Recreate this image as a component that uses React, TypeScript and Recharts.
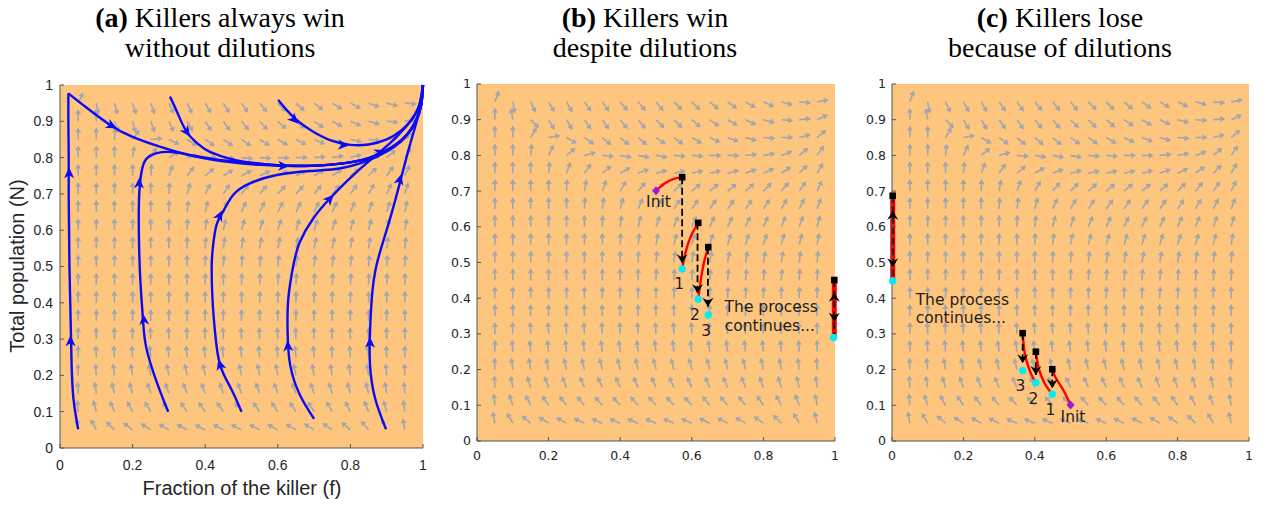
import React from 'react';
import { ComposedChart, Line, Scatter, XAxis, YAxis, CartesianGrid } from 'recharts';

// ---------- axes ----------
const X_TICKS = [0, 0.2, 0.4, 0.6, 0.8, 1];
const Y_TICKS = [0, 0.1, 0.2, 0.3, 0.4, 0.5, 0.6, 0.7, 0.8, 0.9, 1];

// ---------- quiver grid (columns f, rows N from top to bottom) ----------
const GRID_X = [0.05, 0.1, 0.15, 0.2, 0.25, 0.3, 0.35, 0.4, 0.45, 0.5, 0.55, 0.6, 0.65, 0.7, 0.75, 0.8, 0.85, 0.9, 0.95];
const GRID_Y = [0.95, 0.9, 0.85, 0.8, 0.75, 0.7, 0.65, 0.6, 0.55, 0.5, 0.45, 0.4, 0.35, 0.3, 0.25, 0.2, 0.15, 0.1, 0.05];

// arrow directions (degrees)
const FIELD_A: number[][] = [
  [65, -80, -75, -72, -70, -66, -64, -60, -58, -55, -50, -46, -42, -37, -32, -27, -20, -14, -5],
  [90, 95, -70, -75, -70, -65, -60, -57, -54, -50, -46, -42, -38, -34, -29, -23, -15, -5, 12],
  [90, 90, 85, 55, 5, -25, -32, -35, -35, -34, -32, -30, -27, -23, -19, -12, -4, 10, 35],
  [90, 90, 90, 82, 60, 30, 10, 0, -4, -5, -4, -2, 0, 4, 9, 15, 25, 40, 57],
  [90, 90, 90, 90, 85, 70, 52, 40, 32, 27, 25, 25, 26, 29, 33, 38, 45, 55, 66],
  [90, 90, 90, 90, 90, 86, 74, 63, 56, 51, 49, 48, 48, 50, 52, 55, 60, 66, 73],
  [90, 90, 90, 90, 90, 89, 83, 76, 70, 66, 64, 63, 63, 64, 65, 67, 70, 73, 78],
  [90, 90, 90, 90, 90, 90, 87, 82, 78, 75, 73, 72, 72, 72, 73, 74, 76, 78, 81],
  [90, 90, 90, 90, 90, 90, 89, 86, 83, 81, 80, 79, 79, 79, 79, 80, 81, 82, 84],
  [90, 90, 90, 90, 90, 90, 90, 88, 86, 85, 84, 84, 84, 84, 84, 84, 85, 86, 87],
  [90, 90, 90, 90, 90, 90, 90, 89, 88, 88, 87, 87, 87, 87, 87, 87, 88, 88, 89],
  [90, 90, 90, 90, 90, 90, 90, 90, 90, 89, 89, 89, 89, 89, 89, 89, 89, 90, 90],
  [90, 90, 90, 90, 90, 90, 90, 90, 90, 90, 90, 90, 90, 90, 90, 90, 90, 90, 90],
  [90, 91, 91, 92, 92, 92, 92, 92, 92, 92, 92, 92, 92, 92, 92, 92, 91, 91, 90],
  [90, 92, 93, 94, 95, 95, 95, 95, 95, 95, 95, 95, 95, 95, 94, 94, 93, 92, 90],
  [91, 94, 97, 99, 100, 101, 101, 101, 101, 101, 101, 101, 101, 100, 100, 99, 97, 95, 92],
  [92, 98, 103, 106, 108, 109, 110, 110, 110, 110, 110, 110, 109, 109, 108, 106, 103, 100, 95],
  [94, 105, 113, 118, 121, 123, 124, 125, 125, 125, 125, 124, 123, 122, 120, 117, 112, 106, 98],
  [98, 118, 135, 143, 148, 150, 152, 153, 153, 153, 153, 152, 150, 148, 145, 140, 130, 117, 100],
];

// arrow directions (degrees) (b) and (c)
const FIELD_BC: number[][] = [
  [70, -80, -65, -60, -60, -55, -55, -50, -50, -50, -45, -45, -40, -35, -30, -25, -15, -5, 10],
  [90, 100, -45, -60, -60, -55, -55, -50, -50, -45, -45, -40, -35, -30, -25, -15, -5, 5, 25],
  [90, 90, 60, 10, -30, -35, -40, -40, -40, -35, -35, -30, -25, -20, -15, -5, 0, 15, 40],
  [90, 90, 85, 65, 40, 15, -5, -10, -10, -10, -5, -5, 0, 0, 5, 10, 20, 40, 55],
  [90, 90, 90, 85, 70, 55, 40, 30, 20, 15, 12, 12, 12, 15, 20, 25, 35, 45, 60],
  [90, 90, 90, 90, 88, 80, 70, 60, 50, 45, 42, 40, 40, 40, 42, 45, 50, 55, 65],
  [90, 90, 90, 90, 90, 87, 82, 75, 66, 60, 57, 55, 55, 55, 55, 57, 60, 63, 70],
  [90, 90, 90, 90, 90, 90, 88, 83, 76, 71, 68, 66, 65, 65, 65, 66, 68, 70, 75],
  [90, 90, 90, 90, 90, 90, 90, 88, 83, 79, 76, 74, 73, 73, 73, 73, 74, 76, 80],
  [90, 90, 90, 90, 90, 90, 90, 90, 88, 85, 83, 81, 80, 80, 80, 80, 81, 83, 85],
  [90, 90, 90, 90, 90, 90, 90, 90, 90, 88, 87, 86, 85, 85, 85, 85, 86, 87, 88],
  [90, 90, 90, 90, 90, 90, 90, 90, 90, 90, 89, 89, 88, 88, 88, 88, 89, 89, 90],
  [90, 90, 91, 91, 91, 91, 91, 91, 91, 91, 91, 91, 91, 91, 91, 91, 91, 90, 90],
  [90, 92, 92, 93, 93, 93, 93, 93, 93, 93, 93, 93, 93, 93, 93, 93, 92, 92, 90],
  [90, 93, 95, 96, 96, 97, 97, 97, 97, 97, 97, 97, 97, 97, 96, 96, 95, 93, 90],
  [92, 97, 100, 102, 103, 104, 104, 104, 104, 104, 104, 104, 104, 103, 103, 102, 100, 97, 93],
  [93, 100, 107, 110, 112, 113, 114, 114, 114, 114, 114, 114, 113, 113, 112, 110, 107, 103, 97],
  [95, 108, 118, 125, 128, 130, 132, 132, 132, 132, 132, 132, 130, 130, 128, 125, 118, 110, 100],
  [100, 120, 140, 148, 152, 155, 157, 158, 158, 158, 158, 157, 155, 153, 150, 145, 135, 120, 103],
];

// ---------- panel (a) streamlines ----------
type P = [number, number];
const streamA1: P[] = [[0.05, 0.052], [0.037, 0.137], [0.032, 0.229], [0.03, 0.32], [0.028, 0.41], [0.026, 0.504], [0.025, 0.6], [0.024, 0.7], [0.024, 0.8], [0.023, 0.9], [0.023, 0.977]];
const streamA1top: P[] = [[0.023, 0.977], [0.07, 0.94], [0.138, 0.89], [0.2, 0.857], [0.275, 0.83], [0.35, 0.808], [0.413, 0.795], [0.48, 0.786], [0.551, 0.78], [0.643, 0.777], [0.71, 0.778], [0.78, 0.784], [0.83, 0.793], [0.872, 0.807], [0.915, 0.83], [0.955, 0.862], [0.98, 0.9], [0.995, 0.945], [1, 1]];
const streamA2: P[] = [[0.303, 0.968], [0.325, 0.92], [0.349, 0.871], [0.38, 0.838], [0.413, 0.816], [0.46, 0.799], [0.505, 0.789], [0.597, 0.779], [0.68, 0.777], [0.76, 0.782], [0.83, 0.793], [0.88, 0.81], [0.925, 0.835], [0.958, 0.866], [0.98, 0.9], [0.995, 0.945], [1, 1]];
const streamA3: P[] = [[0.601, 0.959], [0.647, 0.908], [0.7, 0.87], [0.75, 0.846], [0.8, 0.835], [0.85, 0.836], [0.9, 0.85], [0.94, 0.875], [0.97, 0.905], [0.99, 0.945], [1, 1]];
const streamA4: P[] = [[0.298, 0.1], [0.266, 0.183], [0.238, 0.275], [0.229, 0.348], [0.222, 0.45], [0.218, 0.55], [0.217, 0.65], [0.22, 0.725], [0.23, 0.782], [0.25, 0.806], [0.28, 0.815], [0.32, 0.814], [0.37, 0.805], [0.43, 0.795], [0.5, 0.787], [0.6, 0.779], [0.7, 0.778], [0.78, 0.784], [0.85, 0.797], [0.9, 0.817], [0.94, 0.845], [0.972, 0.885], [0.992, 0.935], [1, 1]];
const streamA5: P[] = [[0.5, 0.1], [0.471, 0.164], [0.441, 0.229], [0.427, 0.32], [0.42, 0.412], [0.418, 0.504], [0.422, 0.56], [0.431, 0.614], [0.449, 0.651], [0.477, 0.697], [0.523, 0.729], [0.597, 0.752], [0.689, 0.763], [0.78, 0.772], [0.872, 0.802], [0.925, 0.835], [0.955, 0.862], [0.98, 0.9], [0.995, 0.945], [1, 1]];
const streamA6: P[] = [[0.7, 0.08], [0.661, 0.146], [0.634, 0.229], [0.627, 0.32], [0.629, 0.412], [0.643, 0.504], [0.661, 0.568], [0.698, 0.633], [0.744, 0.688], [0.808, 0.752], [0.882, 0.816], [0.93, 0.86], [0.965, 0.9], [0.99, 0.945], [1, 1]];
const streamA7: P[] = [[0.898, 0.052], [0.868, 0.137], [0.854, 0.229], [0.854, 0.32], [0.859, 0.412], [0.872, 0.504], [0.904, 0.614], [0.937, 0.733], [0.964, 0.835], [0.992, 0.936], [1, 1]];
const STREAMS_A = [streamA1, streamA1top, streamA2, streamA3, streamA4, streamA5, streamA6, streamA7];
// arrowheads on streamlines: [f, N, direction in degrees]
const streamHeadsA: [number, number, number][] = [
  [0.029, 0.294, 90], [0.025, 0.757, 90], [0.142, 0.888, -28], [0.349, 0.871, -55],
  [0.615, 0.777, -2], [0.645, 0.905, -45], [0.78, 0.835, -3], [0.881, 0.815, 22],
  [0.231, 0.353, 95], [0.218, 0.729, 88], [0.441, 0.229, 106], [0.44, 0.64, 64],
  [0.628, 0.28, 94], [0.743, 0.686, 47], [0.854, 0.29, 90], [0.936, 0.739, 75],
];

// ---------- panel (b) ----------
const initB: P[] = [[0.5, 0.701]];
const redB: P[][] = [
  [[0.5, 0.701], [0.525, 0.722], [0.55, 0.734], [0.573, 0.739]],
  [[0.573, 0.482], [0.583, 0.53], [0.598, 0.575], [0.618, 0.611]],
  [[0.618, 0.397], [0.625, 0.45], [0.634, 0.5], [0.646, 0.543]],
];
const barB: P[] = [[0.998, 0.451], [0.998, 0.29]];
const dashB: P[][] = [
  [[0.573, 0.739], [0.573, 0.5]],
  [[0.616, 0.611], [0.616, 0.414]],
  [[0.645, 0.543], [0.645, 0.376]],
  [[0.998, 0.451], [0.998, 0.29]],
];
const squaresB: P[] = [[0.573, 0.739], [0.618, 0.611], [0.646, 0.543], [0.998, 0.451]];
const cyanB: P[] = [[0.573, 0.482], [0.618, 0.397], [0.646, 0.353], [0.996, 0.29]];
const tipsB: [number, number, number][] = [[0.573, 0.498, -90], [0.616, 0.414, -90], [0.645, 0.376, -90], [0.998, 0.415, 90], [0.998, 0.334, -90]];
const textB: { x: number; y: number; t: string }[] = [
  { x: 0.507, y: 0.656, t: 'Init' },
  { x: 0.565, y: 0.425, t: '1' },
  { x: 0.609, y: 0.339, t: '2' },
  { x: 0.64, y: 0.294, t: '3' },
  { x: 0.822, y: 0.362, t: 'The process' },
  { x: 0.818, y: 0.309, t: 'continues...' },
];

// ---------- panel (c) ----------
const initC: P[] = [[0.5, 0.101]];
const redC: P[][] = [
  [[0.5, 0.101], [0.485, 0.133], [0.471, 0.157], [0.457, 0.18], [0.449, 0.201]],
  [[0.449, 0.131], [0.433, 0.152], [0.419, 0.18], [0.41, 0.208], [0.403, 0.25]],
  [[0.403, 0.163], [0.391, 0.185], [0.382, 0.208], [0.372, 0.245], [0.366, 0.302]],
];
const barC: P[] = [[0.002, 0.687], [0.002, 0.448]];
const dashC: P[][] = [
  [[0.449, 0.201], [0.449, 0.148]],
  [[0.403, 0.25], [0.403, 0.185]],
  [[0.366, 0.302], [0.366, 0.218]],
  [[0.002, 0.687], [0.002, 0.448]],
];
const squaresC: P[] = [[0.449, 0.201], [0.403, 0.25], [0.366, 0.302], [0.002, 0.687]];
const cyanC: P[] = [[0.449, 0.131], [0.403, 0.163], [0.366, 0.197], [0.002, 0.448]];
const tipsC: [number, number, number][] = [[0.449, 0.148, -90], [0.403, 0.185, -90], [0.366, 0.218, -90], [0.002, 0.645, 90], [0.002, 0.487, -90]];
const textC: { x: number; y: number; t: string }[] = [
  { x: 0.507, y: 0.054, t: 'Init' },
  { x: 0.444, y: 0.073, t: '1' },
  { x: 0.396, y: 0.104, t: '2' },
  { x: 0.36, y: 0.141, t: '3' },
  { x: 0.197, y: 0.381, t: 'The process' },
  { x: 0.193, y: 0.331, t: 'continues...' },
];

// ---------- styles ----------
const ORANGE = '#FEC57F';
const FRAME = '#555555';
const FIELD_COLOR = '#A0A5AE';
const BLUE = '#0A0AF5';
const RED = '#FF0000';

const pts = (a: P[]) => a.map(([x, y]) => ({ x, y }));
const dirPts = (a: [number, number, number][]) => a.map(([x, y, d]) => ({ x, y, a: d }));
const fieldPts = (tbl: number[][]) => GRID_Y.flatMap((y, i) => GRID_X.map((x, j) => ({ x, y, a: tbl[i][j] })));
const fmt = (v: number) => String(v);

function FieldArrow(p: any) {
  const { cx, cy, payload } = p;
  if (cx == null || cy == null) return <g />;
  const r = (payload.a * Math.PI) / 180;
  const L = 12, hl = 5, hw = 3;
  const ux = Math.cos(r), uy = -Math.sin(r);
  const tx = cx + ux * L, ty = cy + uy * L;
  const bx = tx - ux * hl, by = ty - uy * hl;
  const nx = -uy, ny = ux;
  return (
    <g>
      <line x1={cx} y1={cy} x2={bx} y2={by} stroke={FIELD_COLOR} strokeWidth={1.6} />
      <path d={`M${tx},${ty}L${bx + nx * hw},${by + ny * hw}L${bx - nx * hw},${by - ny * hw}Z`} fill={FIELD_COLOR} />
    </g>
  );
}

function StreamHead(p: any) {
  const { cx, cy, payload } = p;
  if (cx == null || cy == null) return <g />;
  const r = (payload.a * Math.PI) / 180;
  const ux = Math.cos(r), uy = -Math.sin(r);
  const nx = -uy, ny = ux;
  const tx = cx + ux * 6, ty = cy + uy * 6;
  const bx = cx - ux * 5, by = cy - uy * 5;
  const mx = cx - ux * 2, my = cy - uy * 2;
  return <path d={`M${tx},${ty}L${bx + nx * 5},${by + ny * 5}L${mx},${my}L${bx - nx * 5},${by - ny * 5}Z`} fill={BLUE} />;
}

function TipHead(p: any) {
  const { cx, cy, payload } = p;
  if (cx == null || cy == null) return <g />;
  const r = (payload.a * Math.PI) / 180;
  const ux = Math.cos(r), uy = -Math.sin(r);
  const nx = -uy, ny = ux;
  const bx = cx - ux * 9, by = cy - uy * 9;
  const mx = cx - ux * 6, my = cy - uy * 6;
  return <path d={`M${cx},${cy}L${bx + nx * 5.5},${by + ny * 5.5}L${mx},${my}L${bx - nx * 5.5},${by - ny * 5.5}Z`} fill="#000" />;
}

const SquareMark = (p: any) => (p.cx == null ? <g /> : <rect x={p.cx - 3.3} y={p.cy - 3.3} width={6.6} height={6.6} fill="#000" />);
const CyanMark = (p: any) => (p.cx == null ? <g /> : <circle cx={p.cx} cy={p.cy} r={3.7} fill="#00EEF2" />);
const InitMark = (p: any) => (p.cx == null ? <g /> : <path d={`M${p.cx},${p.cy - 4.5}L${p.cx + 4},${p.cy}L${p.cx},${p.cy + 4.5}L${p.cx - 4},${p.cy}Z`} fill="#9A1BD8" />);
const TextMark = (p: any) =>
  p.cx == null ? <g /> : (
    <text x={p.cx} y={p.cy} textAnchor="middle" fontFamily="DejaVu Sans" fontSize={15.5} fill="#1e1e1e">
      {p.payload.t}
    </text>
  );

function axes(font: string, fs: number, xMargin: number, yMargin: number, yW: number, xH: number) {
  const tick = { fontFamily: font, fontSize: fs, fill: '#262626' };
  const line = { stroke: FRAME, strokeWidth: 1 };
  return [
    <CartesianGrid key="g" horizontal={false} vertical={false} fill={ORANGE} fillOpacity={1} />,
    <XAxis key="xb" xAxisId={0} dataKey="x" type="number" domain={[0, 1]} ticks={X_TICKS} interval={0} tick={tick} tickSize={-4} tickMargin={xMargin} height={xH} axisLine={line} tickLine={line} tickFormatter={fmt} />,
    <XAxis key="xt" xAxisId="top" orientation="top" type="number" domain={[0, 1]} ticks={X_TICKS} interval={0} tick={false} tickSize={-4} height={0} axisLine={line} tickLine={line} />,
    <YAxis key="yl" yAxisId={0} dataKey="y" type="number" domain={[0, 1]} ticks={Y_TICKS} interval={0} tick={tick} tickSize={-4} tickMargin={yMargin} width={yW} axisLine={line} tickLine={line} tickFormatter={fmt} />,
    <YAxis key="yr" yAxisId="right" orientation="right" type="number" domain={[0, 1]} ticks={Y_TICKS} interval={0} tick={false} tickSize={-4} width={0} axisLine={line} tickLine={line} />,
  ];
}

function PanelA() {
  return (
    <ComposedChart width={440} height={446} margin={{ top: 25, right: 17, bottom: 0, left: 0 }}>
      {axes('Liberation Sans', 14, 16, 11, 60, 58)}
      <Scatter data={fieldPts(FIELD_A)} shape={FieldArrow} isAnimationActive={false} zIndex={350} />
      {STREAMS_A.map((s, i) => (
        <Line key={'s' + i} data={pts(s)} dataKey="y" type="natural" stroke={BLUE} strokeWidth={2.4} dot={false} activeDot={false} isAnimationActive={false} />
      ))}
      <Scatter data={dirPts(streamHeadsA)} shape={StreamHead} isAnimationActive={false} />
    </ComposedChart>
  );
}

function PanelBC(props: {
  w: number; left: number; right: number;
  init: P[]; red: P[][]; bar: P[]; dash: P[][]; squares: P[]; cyan: P[];
  tips: [number, number, number][]; texts: { x: number; y: number; t: string }[];
}) {
  const { w, left, right } = props;
  return (
    <ComposedChart width={w} height={446} margin={{ top: 24, right, bottom: 0, left: 0 }}>
      {axes('DejaVu Sans', 12.5, 14, 10, left, 65)}
      <Scatter data={fieldPts(FIELD_BC)} shape={FieldArrow} isAnimationActive={false} zIndex={350} />
      <Line data={pts(props.bar)} dataKey="y" type="linear" stroke={RED} strokeWidth={5} dot={false} activeDot={false} isAnimationActive={false} />
      {props.red.map((s, i) => (
        <Line key={'r' + i} data={pts(s)} dataKey="y" type="natural" stroke={RED} strokeWidth={2.4} dot={false} activeDot={false} isAnimationActive={false} />
      ))}
      {props.dash.map((s, i) => (
        <Line key={'d' + i} data={pts(s)} dataKey="y" type="linear" stroke="#000" strokeWidth={1.8} strokeDasharray="7 3.5" dot={false} activeDot={false} isAnimationActive={false} />
      ))}
      <Scatter data={dirPts(props.tips)} shape={TipHead} isAnimationActive={false} />
      <Scatter data={pts(props.squares)} shape={SquareMark} isAnimationActive={false} />
      <Scatter data={pts(props.cyan)} shape={CyanMark} isAnimationActive={false} />
      <Scatter data={pts(props.init)} shape={InitMark} isAnimationActive={false} />
      <Scatter data={props.texts} shape={TextMark} isAnimationActive={false} />
    </ComposedChart>
  );
}

const SERIF = 'Liberation Serif';

function Title({ x, tag, l1, l2 }: { x: number; tag: string; l1: string; l2: string }) {
  return (
    <g fontFamily={SERIF} fontSize={28} fill="#000" textAnchor="middle">
      <text x={x} y={27}>
        <tspan fontWeight="bold">{tag}</tspan>
        {' ' + l1}
      </text>
      <text x={x} y={57}>{l2}</text>
    </g>
  );
}

export default function App() {
  return (
    <div style={{ position: 'absolute', left: 0, top: 0, width: 1266, height: 506, background: '#fff', overflow: 'hidden' }}>
      <div style={{ position: 'absolute', left: 0, top: 60 }}>
        <PanelA />
      </div>
      <div style={{ position: 'absolute', left: 440, top: 60 }}>
        <PanelBC w={420} left={37} right={25} init={initB} red={redB} bar={barB} dash={dashB} squares={squaresB} cyan={cyanB} tips={tipsB} texts={textB} />
      </div>
      <div style={{ position: 'absolute', left: 850, top: 60 }}>
        <PanelBC w={416} left={42} right={17} init={initC} red={redC} bar={barC} dash={dashC} squares={squaresC} cyan={cyanC} tips={tipsC} texts={textC} />
      </div>
      <svg width={1266} height={506} style={{ position: 'absolute', left: 0, top: 0, pointerEvents: 'none' }}>
        <Title x={220} tag="(a)" l1="Killers always win" l2="without dilutions" />
        <Title x={645} tag="(b)" l1="Killers win" l2="despite dilutions" />
        <Title x={1060} tag="(c)" l1="Killers lose" l2="because of dilutions" />
        <text x={242} y={495} textAnchor="middle" fontFamily="Liberation Sans" fontSize={20} fill="#262626">
          Fraction of the killer (f)
        </text>
        <text transform="translate(24,266) rotate(-90)" textAnchor="middle" fontFamily="Liberation Sans" fontSize={20} fill="#262626">
          Total population (N)
        </text>
      </svg>
    </div>
  );
}
